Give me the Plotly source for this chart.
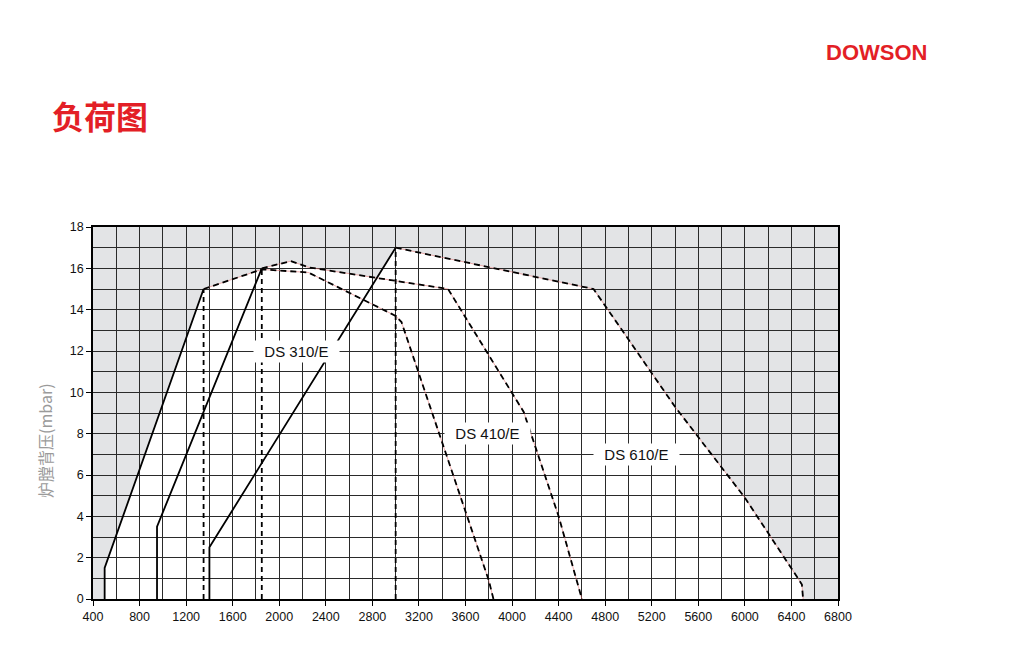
import plotly.graph_objects as go

# ---------------- data ----------------
x_ticks = list(range(400, 6801, 400))
y_ticks = list(range(0, 19, 2))

# DS 310/E
ds310_min_x = [500, 500, 1350]
ds310_min_y = [0, 1.5, 15]
ds310_max_x = [1350, 1850, 2250, 3000, 3050, 3800, 3840]
ds310_max_y = [15, 15.95, 15.8, 13.7, 13.4, 0.9, 0]

# DS 410/E
ds410_min_x = [950, 950, 1850]
ds410_min_y = [0, 3.5, 16]
ds410_max_x = [1850, 2100, 2250, 3450, 4100, 4400, 4570, 4600]
ds410_max_y = [16, 16.35, 16.05, 15, 9.05, 4.0, 0.6, 0]

# DS 610/E
ds610_min_x = [1400, 1400, 3000]
ds610_min_y = [0, 2.5, 17]
ds610_max_x = [3000, 4700, 5400, 6000, 6450, 6490, 6500]
ds610_max_y = [17, 15, 9.3, 4.9, 1.05, 0.7, 0]

# vertical drop lines (dashed)
drop_x = [1350, 1850, 3000]
drop_y = [15, 16, 17]

# curve labels
label_text = ["DS 310/E", "DS 410/E", "DS 610/E"]
label_x = [2150, 3790, 5065]
label_y = [12, 8, 7]

curves = [
    (ds310_min_x, ds310_min_y, ds310_max_x, ds310_max_y),
    (ds410_min_x, ds410_min_y, ds410_max_x, ds410_max_y),
    (ds610_min_x, ds610_min_y, ds610_max_x, ds610_max_y),
]

GREY = "#e3e4e6"
RED = "#e31f26"
GRID = "#2a2a2a"
FONT = "Liberation Sans, Arial, sans-serif"

fig = go.Figure()
shapes = []

# white working areas (drawn below gridlines)
for mnx, mny, mxx, mxy in curves:
    px = mnx + mxx[1:]
    py = mny + mxy[1:]
    path = "M " + " L ".join(f"{a},{b}" for a, b in zip(px, py)) + " Z"
    shapes.append(dict(type="path", path=path, xref="x", yref="y",
                       fillcolor="white", line=dict(width=0), layer="below"))

# lines
for mnx, mny, mxx, mxy in curves:
    fig.add_trace(go.Scatter(x=mnx, y=mny, mode="lines",
                             line=dict(color="black", width=1.8),
                             hoverinfo="skip", showlegend=False))
    fig.add_trace(go.Scatter(x=mxx, y=mxy, mode="lines",
                             line=dict(color="rgba(225,110,110,0.55)", width=1),
                             hoverinfo="skip", showlegend=False))
    fig.add_trace(go.Scatter(x=mxx, y=mxy, mode="lines",
                             line=dict(color="black", width=1.8, dash="6px,4px"),
                             hoverinfo="skip", showlegend=False))

for dx, dy in zip(drop_x, drop_y):
    fig.add_trace(go.Scatter(x=[dx, dx], y=[0, dy], mode="lines",
                             line=dict(color="black", width=1.8, dash="5px,4px"),
                             hoverinfo="skip", showlegend=False))

annotations = []
for t, lx, ly in zip(label_text, label_x, label_y):
    annotations.append(dict(x=lx, y=ly, xref="x", yref="y", text="  " + t + "  ",
                            showarrow=False, bgcolor="white", borderpad=2,
                            font=dict(family=FONT, size=15, color="#111")))

annotations.append(dict(text="炉膛背压(mbar)", xref="paper", yref="paper",
                        x=-0.0644, y=0.425, textangle=-90, showarrow=False,
                        xanchor="center", yanchor="middle",
                        font=dict(family="Noto Sans CJK SC, Liberation Sans", size=16,
                                  color="#9a9a9a")))
annotations.append(dict(text="<b>负荷图</b>", xref="paper", yref="paper",
                        x=-0.058, y=1.30, showarrow=False,
                        xanchor="left", yanchor="middle",
                        font=dict(family="Noto Sans CJK SC", size=32, color=RED)))
annotations.append(dict(text="<b>DOWSON</b>", xref="paper", yref="paper",
                        x=1.1215, y=1.470, showarrow=False,
                        xanchor="right", yanchor="middle",
                        font=dict(family="Liberation Sans, Arial", size=22, color=RED)))

fig.update_layout(
    width=1010, height=661,
    margin=dict(l=85, r=180, t=219, b=70),
    paper_bgcolor="white",
    plot_bgcolor=GREY,
    shapes=shapes,
    annotations=annotations,
    showlegend=False,
    font=dict(family=FONT, size=12, color="#111"),
)
fig.update_xaxes(
    range=[400, 6800], tickvals=x_ticks, ticktext=[str(v) for v in x_ticks],
    showgrid=True, gridcolor=GRID, gridwidth=1.2,
    minor=dict(dtick=200, tick0=400, showgrid=True, gridcolor=GRID, gridwidth=1.2),
    showline=True, linecolor="black", linewidth=2, mirror=True,
    ticks="outside", ticklen=5, tickcolor="black", tickwidth=1,
    zeroline=False, tickfont=dict(size=12.5, color="#111"),
)
fig.update_yaxes(
    range=[0, 18], tickvals=y_ticks, ticktext=[str(v) for v in y_ticks],
    showgrid=True, gridcolor=GRID, gridwidth=1.2,
    minor=dict(dtick=1, tick0=0, showgrid=True, gridcolor=GRID, gridwidth=1.2),
    showline=True, linecolor="black", linewidth=1.5, mirror=True,
    ticks="outside", ticklen=5, tickcolor="black", tickwidth=1,
    zeroline=False, tickfont=dict(size=12.5, color="#111"),
)

fig.write_html("out.html")
